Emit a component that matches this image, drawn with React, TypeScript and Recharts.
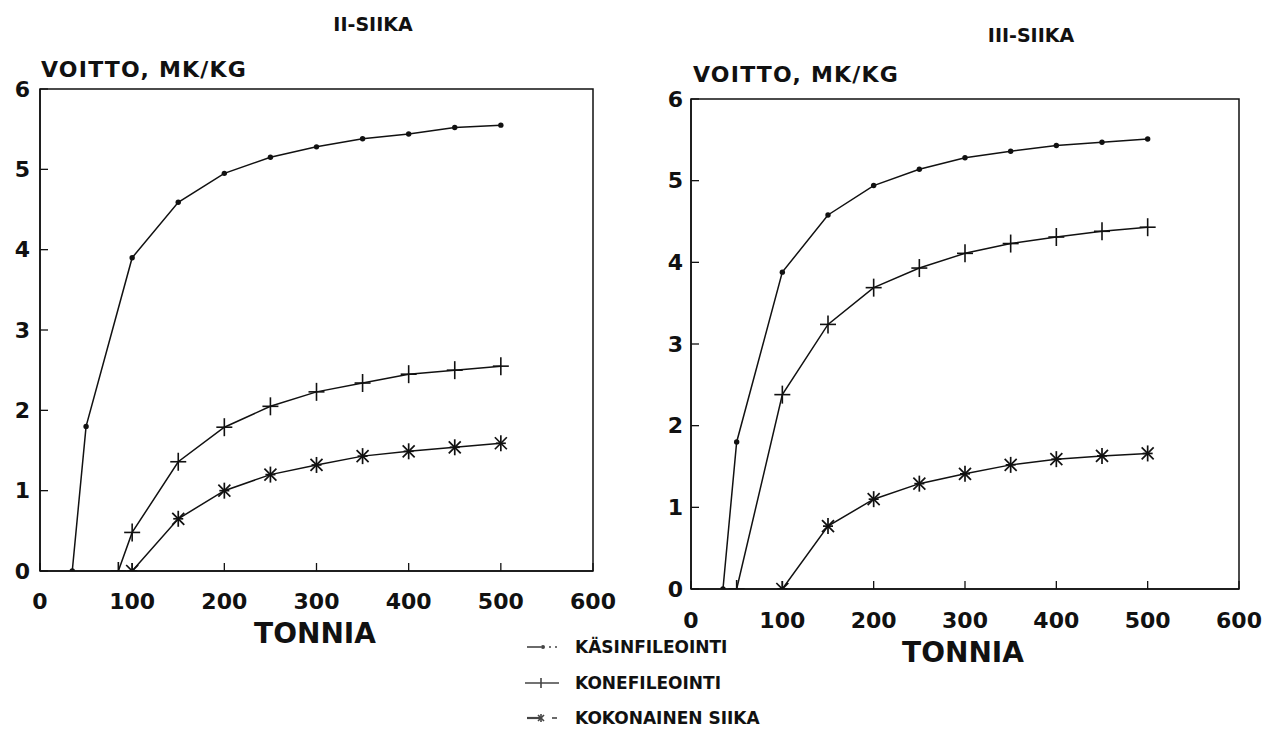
import React from 'react';
import { LineChart, Line, XAxis, YAxis, ReferenceArea } from 'recharts';

// ---------- data ----------
const xTicks = [0, 100, 200, 300, 400, 500, 600];
const yTicks = [0, 1, 2, 3, 4, 5, 6];
const seriesNames = ['KÄSINFILEOINTI', 'KONEFILEOINTI', 'KOKONAINEN SIIKA'];
const chartTitles = ['II-SIIKA', 'III-SIIKA'];
const yTitle = 'VOITTO, MK/KG';
const xTitle = 'TONNIA';

// II-SIIKA
const kasin2X = [35, 50, 100, 150, 200, 250, 300, 350, 400, 450, 500];
const kasin2Y = [0, 1.8, 3.9, 4.59, 4.95, 5.15, 5.28, 5.38, 5.44, 5.52, 5.55];
const kone2X = [85, 100, 150, 200, 250, 300, 350, 400, 450, 500];
const kone2Y = [0, 0.48, 1.36, 1.79, 2.05, 2.23, 2.34, 2.45, 2.5, 2.55];
const koko2X = [100, 150, 200, 250, 300, 350, 400, 450, 500];
const koko2Y = [0, 0.65, 1.0, 1.2, 1.32, 1.43, 1.49, 1.54, 1.59];

// III-SIIKA
const kasin3X = [35, 50, 100, 150, 200, 250, 300, 350, 400, 450, 500];
const kasin3Y = [0, 1.8, 3.88, 4.58, 4.94, 5.14, 5.28, 5.36, 5.43, 5.47, 5.51];
const kone3X = [50, 100, 150, 200, 250, 300, 350, 400, 450, 500];
const kone3Y = [0, 2.38, 3.24, 3.69, 3.93, 4.11, 4.23, 4.31, 4.38, 4.43];
const koko3X = [100, 150, 200, 250, 300, 350, 400, 450, 500];
const koko3Y = [0, 0.77, 1.1, 1.29, 1.41, 1.52, 1.59, 1.63, 1.66];

const zip = (xs: number[], ys: number[]) => xs.map((x, i) => ({ x, y: ys[i] }));

const FONT = '"DejaVu Sans", "Liberation Sans", sans-serif';
const INK = '#111';

// ---------- markers ----------
const DotMark = (p: any) => (
  <circle key={`d${p.index}`} cx={p.cx} cy={p.cy} r={2.7} fill={INK} />
);
const PlusMark = (p: any) => (
  <g key={`p${p.index}`} stroke={INK} strokeWidth={1.6}>
    <line x1={p.cx - 8} x2={p.cx + 8} y1={p.cy} y2={p.cy} />
    <line x1={p.cx} x2={p.cx} y1={p.cy - 9} y2={p.cy + 9} />
  </g>
);
const StarMark = (p: any) => (
  <g key={`s${p.index}`} stroke={INK} strokeWidth={1.7}>
    <line x1={p.cx} x2={p.cx} y1={p.cy - 8} y2={p.cy + 8} />
    <line x1={p.cx - 6} x2={p.cx + 6} y1={p.cy - 6} y2={p.cy + 6} />
    <line x1={p.cx - 6} x2={p.cx + 6} y1={p.cy + 6} y2={p.cy - 6} />
    <line x1={p.cx - 5} x2={p.cx + 5} y1={p.cy} y2={p.cy} />
  </g>
);

const tickStyle = { fontSize: 22, fontWeight: 'bold', fill: INK, fontFamily: FONT };

type PanelProps = {
  left: number;
  width: number;
  margin: { top: number; right: number; bottom: number; left: number };
  yAxisWidth: number;
  xTickMargin: number;
  yTickMargin: number;
  kasin: { x: number; y: number }[];
  kone: { x: number; y: number }[];
  koko: { x: number; y: number }[];
};

function Panel(props: PanelProps) {
  return (
    <div style={{ position: 'absolute', left: props.left, top: 0 }}>
      <LineChart width={props.width} height={730} margin={props.margin}>
        <XAxis
          type="number"
          dataKey="x"
          domain={[0, 600]}
          ticks={xTicks}
          allowDataOverflow
          height={60}
          tick={tickStyle}
          tickSize={-8}
          tickMargin={props.xTickMargin}
          axisLine={{ stroke: INK, strokeWidth: 1.5 }}
          tickLine={{ stroke: INK, strokeWidth: 1.3 }}
          interval={0}
        />
        <YAxis
          type="number"
          dataKey="y"
          domain={[0, 6]}
          ticks={yTicks}
          allowDataOverflow
          width={props.yAxisWidth}
          tick={tickStyle}
          tickSize={-8}
          tickMargin={props.yTickMargin}
          axisLine={{ stroke: INK, strokeWidth: 1.5 }}
          tickLine={{ stroke: INK, strokeWidth: 1.3 }}
          interval={0}
        />
        <ReferenceArea x1={0} x2={600} y1={0} y2={6} fill="none" stroke={INK} strokeWidth={1.5} />
        <Line data={props.kasin} dataKey="y" type="linear" stroke={INK} strokeWidth={1.5}
          dot={DotMark} activeDot={false} isAnimationActive={false} />
        <Line data={props.kone} dataKey="y" type="linear" stroke={INK} strokeWidth={1.5}
          dot={PlusMark} activeDot={false} isAnimationActive={false} />
        <Line data={props.koko} dataKey="y" type="linear" stroke={INK} strokeWidth={1.5}
          dot={StarMark} activeDot={false} isAnimationActive={false} />
      </LineChart>
    </div>
  );
}

function Overlay() {
  const legendRows = [647, 683, 718];
  return (
    <svg width={1269} height={730} style={{ position: 'absolute', left: 0, top: 0, pointerEvents: 'none' }}>
      <g fontFamily={FONT} fontWeight="bold" fill={INK}>
        <text x={373} y={31} fontSize={19} textAnchor="middle">{chartTitles[0]}</text>
        <text x={1031} y={42} fontSize={19} textAnchor="middle">{chartTitles[1]}</text>
        <text x={41} y={77} fontSize={22} letterSpacing={1.2}>{yTitle}</text>
        <text x={693} y={82} fontSize={22} letterSpacing={1.2}>{yTitle}</text>
        <text x={315} y={643} fontSize={28} textAnchor="middle">{xTitle}</text>
        <text x={963} y={662} fontSize={28} textAnchor="middle">{xTitle}</text>
        {seriesNames.map((n, i) => (
          <text key={n} x={575} y={legendRows[i] + 6} fontSize={17}>{n}</text>
        ))}
      </g>
      {/* legend samples */}
      <g stroke="#444" strokeWidth={1.6}>
        <line x1={527} x2={541} y1={legendRows[0]} y2={legendRows[0]} />
        <circle cx={543} cy={legendRows[0]} r={2} fill="#444" stroke="none" />
        <line x1={549} x2={551} y1={legendRows[0]} y2={legendRows[0]} />
        <line x1={555} x2={557} y1={legendRows[0]} y2={legendRows[0]} />

        <line x1={525} x2={559} y1={legendRows[1]} y2={legendRows[1]} />
        <line x1={541} x2={541} y1={legendRows[1] - 5} y2={legendRows[1] + 5} />

        <line x1={527} x2={541} y1={legendRows[2]} y2={legendRows[2]} strokeWidth={2.2} />
        <line x1={541} x2={541} y1={legendRows[2] - 4} y2={legendRows[2] + 4} />
        <line x1={538} x2={544} y1={legendRows[2] - 3} y2={legendRows[2] + 3} />
        <line x1={538} x2={544} y1={legendRows[2] + 3} y2={legendRows[2] - 3} />
        <line x1={552} x2={557} y1={legendRows[2]} y2={legendRows[2]} />
      </g>
    </svg>
  );
}

export default function App() {
  return (
    <div style={{ position: 'absolute', left: 0, top: 0, width: 1269, height: 730, background: '#fff', overflow: 'hidden' }}>
      <Panel
        left={0}
        width={640}
        margin={{ top: 89, right: 47, bottom: 99, left: 0 }}
        yAxisWidth={40}
        xTickMargin={30}
        yTickMargin={18}
        kasin={zip(kasin2X, kasin2Y)}
        kone={zip(kone2X, kone2Y)}
        koko={zip(koko2X, koko2Y)}
      />
      <Panel
        left={640}
        width={629}
        margin={{ top: 99, right: 30, bottom: 81, left: 0 }}
        yAxisWidth={51}
        xTickMargin={31}
        yTickMargin={16}
        kasin={zip(kasin3X, kasin3Y)}
        kone={zip(kone3X, kone3Y)}
        koko={zip(koko3X, koko3Y)}
      />
      <Overlay />
    </div>
  );
}
